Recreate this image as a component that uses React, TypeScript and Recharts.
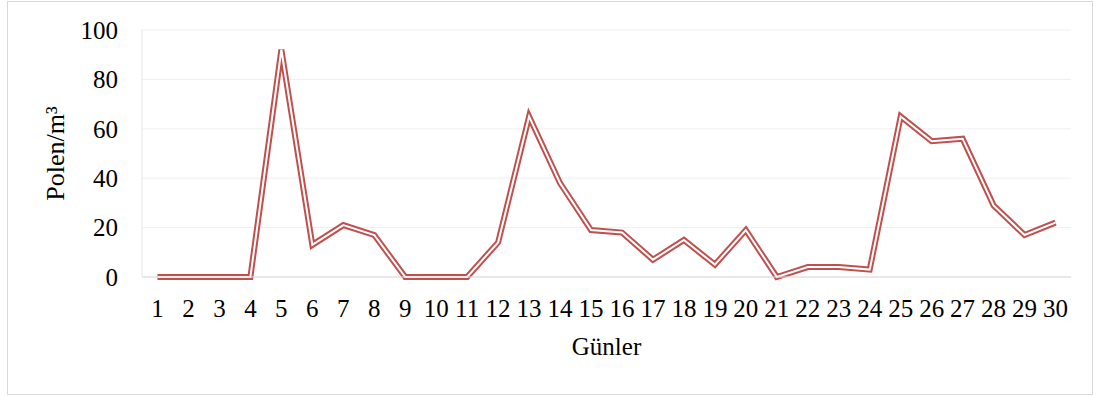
import { LineChart, Line, XAxis, YAxis, CartesianGrid, Label } from "recharts";

const days = [
  "1", "2", "3", "4", "5", "6", "7", "8", "9", "10",
  "11", "12", "13", "14", "15", "16", "17", "18", "19", "20",
  "21", "22", "23", "24", "25", "26", "27", "28", "29", "30",
];
const pollen = [
  0, 0, 0, 0, 92, 13, 21, 17, 0, 0,
  0, 14, 65, 38, 19, 18, 7, 15, 5, 19,
  0, 4, 4, 3, 65, 55, 56, 29, 17, 22,
];
const yTicks = [0, 20, 40, 60, 80, 100];

const FONT = '"Liberation Serif", "Times New Roman", serif';
const RED = "#c0504d";

const data = days.map((d, i) => ({ day: d, value: pollen[i] }));

function YTitle(props: any) {
  const vb = props.viewBox || { x: 0, y: 0, width: 0, height: 0 };
  const cx = vb.x + 55;
  const cy = vb.y + vb.height / 2;
  return (
    <text
      x={cx}
      y={cy}
      transform={`rotate(-90, ${cx}, ${cy})`}
      textAnchor="middle"
      dominantBaseline="central"
      fontFamily={FONT}
      fontSize={26}
      fill="#000"
    >
      Polen/m³
    </text>
  );
}

export default function App() {
  return (
    <div
      style={{
        position: "absolute",
        left: 0,
        top: 0,
        width: 1099,
        height: 396,
        background: "#fff",
      }}
    >
      <div
        style={{
          position: "absolute",
          left: 7,
          top: 1,
          width: 1084,
          height: 392,
          border: "1px solid #d9d9d9",
        }}
      />
      <div style={{ position: "absolute", left: 0, top: 0 }}>
        <LineChart
          width={1099}
          height={396}
          data={data}
          margin={{ top: 30, right: 28, bottom: 0, left: 0 }}
        >
          <CartesianGrid vertical={false} stroke="#efefef" />
          <XAxis
            dataKey="day"
            height={119}
            padding={{ left: 15.5, right: 15.5 }}
            axisLine={{ stroke: "#d9d9d9" }}
            tickLine={false}
            tickSize={0}
            tickMargin={22}
            interval={0}
            tick={{ fill: "#000", fontSize: 25, fontFamily: FONT }}
          >
            <Label
              value="Günler"
              position="insideBottom"
              offset={41}
              fill="#000"
              fontSize={25}
              fontFamily={FONT}
            />
          </XAxis>
          <YAxis
            width={142}
            domain={[0, 100]}
            ticks={yTicks}
            axisLine={{ stroke: "#e6e6e6" }}
            tickLine={false}
            tickSize={0}
            tickMargin={24}
            tick={{ fill: "#000", fontSize: 25, fontFamily: FONT }}
          >
            <Label content={<YTitle />} />
          </YAxis>
          <Line
            type="linear"
            dataKey="value"
            stroke={RED}
            strokeWidth={6}
            dot={false}
            activeDot={false}
            isAnimationActive={false}
          />
          <Line
            type="linear"
            dataKey="value"
            stroke="#ffffff"
            strokeWidth={2}
            dot={false}
            activeDot={false}
            isAnimationActive={false}
          />
        </LineChart>
      </div>
    </div>
  );
}
